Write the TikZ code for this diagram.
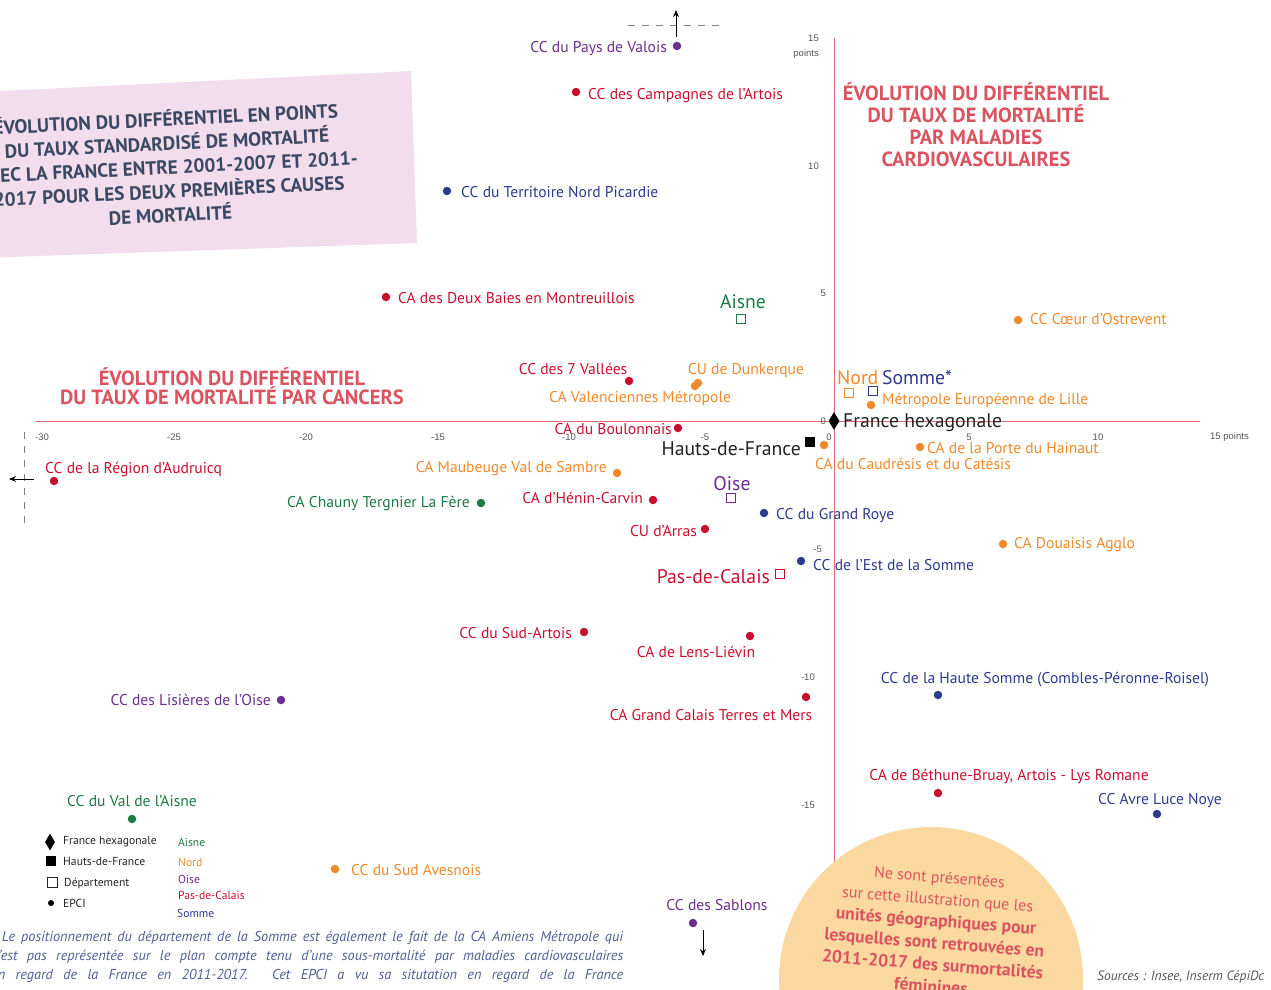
\documentclass[tikz,border=0pt]{standalone}
\usepackage{fontspec}
\setmainfont{PT Sans}
\newfontfamily\tickfont{Liberation Sans}
\usetikzlibrary{shapes.geometric,arrows.meta}
\definecolor{pdc}{HTML}{C8102E}
\definecolor{nord}{HTML}{F0892A}
\definecolor{oise}{HTML}{6B2D8F}
\definecolor{somme}{HTML}{2E3A8C}
\definecolor{aisne}{HTML}{1B7A45}
\definecolor{axisred}{HTML}{E06A74}
\definecolor{headred}{HTML}{D9545F}
\definecolor{pinkbox}{HTML}{F1DDEB}
\definecolor{peach}{HTML}{FCD8A1}
\definecolor{slate}{HTML}{3B4863}
\definecolor{notecol}{HTML}{4F5E95}
\definecolor{tickgray}{HTML}{555555}
\definecolor{ink}{HTML}{222222}
\tikzset{
  dot/.style={circle, fill=#1, inner sep=0pt, minimum size=8.5pt},
  dept/.style={rectangle, draw=#1, line width=0.9pt, fill=white, inner sep=0pt, minimum size=9.5pt},
  lab/.style={font=\fontsize{15.6}{18}\selectfont, text=#1, inner sep=0pt},
  biglab/.style={font=\fontsize{19.7}{22}\selectfont, text=#1, inner sep=0pt},
  ticklab/.style={font=\tickfont\fontsize{9.5}{11}\selectfont, text=tickgray, inner sep=0pt},
  head/.style={font=\bfseries\fontsize{20.5}{22}\selectfont, text=headred, align=center, inner sep=0pt},
  leg/.style={font=\fontsize{11.6}{13}\selectfont, text=#1, inner sep=0pt, anchor=west},
  note/.style={font=\itshape\fontsize{14.3}{16}\selectfont, text=notecol, inner sep=0pt, anchor=base west},
  axisline/.style={draw=axisred, line width=0.8pt},
  guide/.style={draw=gray, line width=0.8pt, dash pattern=on 7pt off 7pt},
  arrowline/.style={draw=black, line width=0.9pt, -{Stealth[length=7pt,width=6pt]}}
}
\begin{document}
\begin{tikzpicture}[x=1pt,y=-1pt]
\useasboundingbox (0,0) rectangle (1271,989);
\clip (0,0) rectangle (1271,989);

% title box
\fill[pinkbox] (-20,92) -- (411,71) -- (417,243) -- (-20,258) -- cycle;
\node[font=\bfseries\fontsize{19.2}{24}\selectfont, text=slate, align=center, rotate=2.8, inner sep=0pt] (title) at (168,166)
 {ÉVOLUTION DU DIFFÉRENTIEL EN POINTS\\ DU TAUX STANDARDISÉ DE MORTALITÉ\\ AVEC LA FRANCE ENTRE 2001-2007 ET 2011-\\ 2017 POUR LES DEUX PREMIÈRES CAUSES\\ DE MORTALITÉ};

% axes
\coordinate (ytop) at (834,38);
\coordinate (ybot) at (834,870);
\coordinate (xleft) at (36,421);
\coordinate (xright) at (1200,421);
\draw[axisline] (ytop) -- (ybot);
\draw[axisline] (xleft) -- (xright);

% tick labels x
\node[ticklab] (tx1) at (42,437) {-30};
\node[ticklab] (tx2) at (174,437) {-25};
\node[ticklab] (tx3) at (306,437) {-20};
\node[ticklab] (tx4) at (438,437) {-15};
\node[ticklab] (tx5) at (569,437) {-10};
\node[ticklab] (tx6) at (705,437) {-5};
\node[ticklab] (tx7) at (829,437) {0};
\node[ticklab] (tx8) at (969,437) {5};
\node[ticklab] (tx9) at (1098,437) {10};
\node[ticklab, anchor=west] (tx10) at (1210,437) {15 points};
% tick labels y
\node[ticklab, anchor=east] (ty1) at (819,38) {15};
\node[ticklab, anchor=east] (ty1b) at (819,54) {points};
\node[ticklab, anchor=east] (ty2) at (819,166) {10};
\node[ticklab, anchor=east] (ty3) at (826,293) {5};
\node[ticklab, anchor=east] (ty4) at (826,421) {0};
\node[ticklab, anchor=east] (ty5) at (822,549) {-5};
\node[ticklab, anchor=east] (ty6) at (815,677) {-10};
\node[ticklab, anchor=east] (ty7) at (815,805) {-15};

% off-scale guides
\coordinate (gt1) at (628,25); \coordinate (gt2) at (723,25);
\draw[guide] (gt1) -- (gt2);
\coordinate (at1) at (676,37); \coordinate (at2) at (676,10);
\draw[arrowline] (at1) -- (at2);
\coordinate (gl1) at (24,432); \coordinate (gl2) at (24,530);
\draw[guide] (gl1) -- (gl2);
\coordinate (al1) at (34,479); \coordinate (al2) at (9,479);
\draw[arrowline] (al1) -- (al2);
\coordinate (ab1) at (703,930); \coordinate (ab2) at (703,956);
\draw[arrowline] (ab1) -- (ab2);

% headings
\node[head, font=\bfseries\fontsize{20.5}{19.5}\selectfont] (hcancer) at (232,386) {ÉVOLUTION DU DIFFÉRENTIEL\\ DU TAUX DE MORTALITÉ PAR CANCERS};
\node[head] (hcardio) at (976,125) {ÉVOLUTION DU DIFFÉRENTIEL\\ DU TAUX DE MORTALITÉ\\ PAR MALADIES\\ CARDIOVASCULAIRES};

% France / region / departments
\node[diamond, fill=black, inner sep=0pt, minimum width=11pt, minimum height=18pt] (fh) at (834,421) {};
\node[biglab=ink, anchor=base west] (fhl) at (843,427) {France hexagonale};
\node[rectangle, fill=black, inner sep=0pt, minimum size=10.5pt] (hdf) at (810,442) {};
\node[biglab=ink, anchor=base east] (hdfl) at (801,455) {Hauts-de-France};
\node[dept=aisne] (aisne) at (741,319) {};
\node[biglab=aisne, anchor=base] (aisnel) at (743,308) {Aisne};
\node[dept=nord] (nord) at (849,393) {};
\node[biglab=nord, anchor=base west] (nordl) at (837,384) {Nord};
\node[dept=somme] (somme) at (873,391) {};
\node[biglab=somme, anchor=base west] (sommel) at (882,384) {Somme*};
\node[dept=oise] (oise) at (731,498) {};
\node[biglab=oise, anchor=base] (oisel) at (732,490) {Oise};
\node[dept=pdc] (pdc) at (780,574) {};
\node[biglab=pdc, anchor=base east] (pdcl) at (770,583) {Pas-de-Calais};

% EPCI
\node[dot=oise] (e1) at (677,46) {};
\node[lab=oise, anchor=base east] (e1l) at (667,52) {CC du Pays de Valois};
\node[dot=pdc] (e2) at (576,92) {};
\node[lab=pdc, anchor=base west] (e2l) at (588,99) {CC des Campagnes de l’Artois};
\node[dot=somme] (e3) at (447,191) {};
\node[lab=somme, anchor=base west] (e3l) at (461,197) {CC du Territoire Nord Picardie};
\node[dot=pdc] (e4) at (386,297) {};
\node[lab=pdc, anchor=base west] (e4l) at (398,303) {CA des Deux Baies en Montreuillois};
\node[dot=nord] (e5) at (1018,320) {};
\node[lab=nord, anchor=base west] (e5l) at (1030,324) {CC Cœur d’Ostrevent};
\node[dot=pdc] (e6) at (629,381) {};
\node[lab=pdc, anchor=base] (e6l) at (573,374) {CC des 7 Vallées};
\node[dot=nord] (e7) at (698,383) {};
\node[lab=nord, anchor=base] (e7l) at (746,374) {CU de Dunkerque};
\node[dot=nord] (e8) at (695,386) {};
\node[lab=nord, anchor=base] (e8l) at (640,402) {CA Valenciennes Métropole};
\node[dot=nord] (e9) at (871,405) {};
\node[lab=nord, anchor=base west] (e9l) at (882,404) {Métropole Européenne de Lille};
\node[dot=pdc] (e10) at (678,428) {};
\node[lab=pdc, anchor=base east] (e10l) at (672,434) {CA du Boulonnais};
\node[dot=nord] (e11) at (824,445) {};
\node[lab=nord, anchor=base west] (e11l) at (815,469) {CA du Caudrésis et du Catésis};
\node[dot=nord] (e12) at (920,447) {};
\node[lab=nord, anchor=base west] (e12l) at (927,453) {CA de la Porte du Hainaut};
\node[dot=pdc] (e13) at (54,481) {};
\node[lab=pdc, anchor=base west] (e13l) at (45,473) {CC de la Région d’Audruicq};
\node[dot=nord] (e14) at (617,473) {};
\node[lab=nord, anchor=base east] (e14l) at (607,472) {CA Maubeuge Val de Sambre};
\node[dot=aisne] (e15) at (481,503) {};
\node[lab=aisne, anchor=base east] (e15l) at (470,507) {CA Chauny Tergnier La Fère};
\node[dot=pdc] (e16) at (653,500) {};
\node[lab=pdc, anchor=base east] (e16l) at (643,503) {CA d’Hénin-Carvin};
\node[dot=somme] (e17) at (764,513) {};
\node[lab=somme, anchor=base west] (e17l) at (776,519) {CC du Grand Roye};
\node[dot=pdc] (e18) at (705,529) {};
\node[lab=pdc, anchor=base east] (e18l) at (697,536) {CU d’Arras};
\node[dot=nord] (e19) at (1003,544) {};
\node[lab=nord, anchor=base west] (e19l) at (1014,548) {CA Douaisis Agglo};
\node[dot=somme] (e20) at (801,561) {};
\node[lab=somme, anchor=base west] (e20l) at (813,570) {CC de l’Est de la Somme};
\node[dot=pdc] (e21) at (584,632) {};
\node[lab=pdc, anchor=base east] (e21l) at (572,638) {CC du Sud-Artois};
\node[dot=pdc] (e22) at (750,636) {};
\node[lab=pdc, anchor=base] (e22l) at (696,657) {CA de Lens-Liévin};
\node[dot=somme] (e23) at (938,695) {};
\node[lab=somme, anchor=base] (e23l) at (1045,683) {CC de la Haute Somme (Combles-Péronne-Roisel)};
\node[dot=oise] (e24) at (281,700) {};
\node[lab=oise, anchor=base east] (e24l) at (271,705) {CC des Lisières de l’Oise};
\node[dot=pdc] (e25) at (806,697) {};
\node[lab=pdc, anchor=base] (e25l) at (711,720) {CA Grand Calais Terres et Mers};
\node[dot=pdc] (e26) at (938,793) {};
\node[lab=pdc, anchor=base] (e26l) at (1009,780) {CA de Béthune-Bruay, Artois - Lys Romane};
\node[dot=somme] (e27) at (1157,814) {};
\node[lab=somme, anchor=base] (e27l) at (1160,804) {CC Avre Luce Noye};
\node[dot=aisne] (e28) at (132,819) {};
\node[lab=aisne, anchor=base] (e28l) at (132,806) {CC du Val de l’Aisne};
\node[dot=nord] (e29) at (335,869) {};
\node[lab=nord, anchor=base west] (e29l) at (351,875) {CC du Sud Avesnois};
\node[dot=oise] (e30) at (693,923) {};
\node[lab=oise, anchor=base] (e30l) at (717,910) {CC des Sablons};

% legend
\node[diamond, fill=black, inner sep=0pt, minimum width=10pt, minimum height=17pt] (lg1) at (50,842) {};
\node[leg=ink] (lg1l) at (63,842) {France hexagonale};
\node[rectangle, fill=black, inner sep=0pt, minimum size=10pt] (lg2) at (51,861) {};
\node[leg=ink] (lg2l) at (63,861) {Hauts-de-France};
\node[rectangle, draw=ink, line width=0.9pt, inner sep=0pt, minimum size=10pt] (lg3) at (52,882) {};
\node[leg=ink] (lg3l) at (64,883) {Département};
\node[circle, fill=black, inner sep=0pt, minimum size=6pt] (lg4) at (51,903) {};
\node[leg=ink] (lg4l) at (63,903) {EPCI};
\node[leg=aisne] (lc1) at (178,842) {Aisne};
\node[leg=nord] (lc2) at (178,862) {Nord};
\node[leg=oise] (lc3) at (178,879) {Oise};
\node[leg=pdc] (lc4) at (178,895) {Pas-de-Calais};
\node[leg=somme] (lc5) at (177,913) {Somme};

% bubble
\node[circle, fill=peach, minimum size=304pt, inner sep=0pt] (bubble) at (931,979) {};
\node[rotate=-4.5, align=center, text=headred, inner sep=0pt, anchor=north, font=\fontsize{16}{22}\selectfont] (bubtext) at (940,871)
 {Ne sont présentées\\ sur cette illustration que les\\ \textbf{\fontsize{17.6}{22}\selectfont unités géographiques pour}\\ \textbf{\fontsize{17.6}{22}\selectfont lesquelles sont retrouvées en}\\ \textbf{\fontsize{17.6}{22}\selectfont 2011-2017 des surmortalités}\\ \textbf{\fontsize{17.6}{22}\selectfont féminines}};

% note
\node[note] (n1) at (-9,941) {\makebox[632pt][s]{* Le positionnement du département de la Somme est également le fait de la CA Amiens Métropole qui}};
\node[note] (n2) at (-9,960) {\makebox[632pt][s]{n’est pas représentée sur le plan compte tenu d’une sous-mortalité par maladies cardiovasculaires}};
\node[note] (n3) at (-9,979) {\makebox[632pt][s]{en regard de la France en 2011-2017. Cet EPCI a vu sa situtation en regard de la France}};
\node[font=\itshape\fontsize{13.5}{15}\selectfont, text=tickgray, inner sep=0pt, anchor=base west] (src) at (1097,980) {Sources : Insee, Inserm CépiDc};
\end{tikzpicture}
\end{document}
